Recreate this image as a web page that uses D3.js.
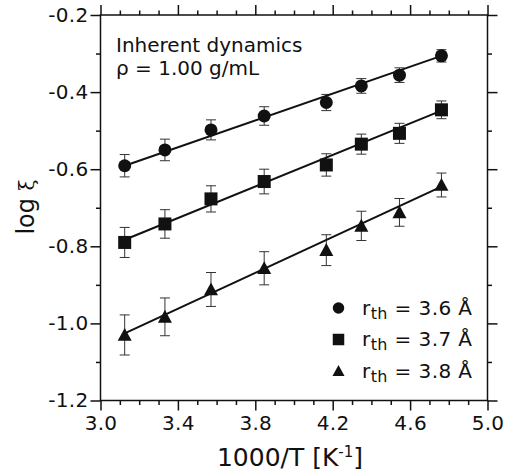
<!DOCTYPE html>
<html>
<head>
<meta charset="utf-8">
<script src="https://cdn.jsdelivr.net/npm/d3@7"></script>
<style>
  html, body { margin: 0; padding: 0; background: #fff; }
  svg { display: block; font-family: "DejaVu Sans", Verdana, sans-serif; }
</style>
</head>
<body>
<svg id="chart" width="505" height="474"></svg>
<script>
// ---- data ----
const xValues = [3.125, 3.333, 3.571, 3.846, 4.167, 4.348, 4.545, 4.762];

const circleY   = [-0.591, -0.550, -0.498, -0.462, -0.427, -0.384, -0.356, -0.306];
const circleErr = [0.029, 0.028, 0.026, 0.024, 0.021, 0.019, 0.019, 0.016];

const squareY   = [-0.790, -0.742, -0.677, -0.632, -0.589, -0.535, -0.507, -0.446];
const squareErr = [0.039, 0.037, 0.034, 0.032, 0.029, 0.026, 0.026, 0.023];

const triangleY   = [-1.030, -0.983, -0.912, -0.857, -0.810, -0.747, -0.712, -0.641];
const triangleErr = [0.052, 0.049, 0.044, 0.043, 0.040, 0.038, 0.036, 0.031];

// fit-line end points: [x0, y0, x1, y1]
const circleFit   = [3.125, -0.591, 4.762, -0.306];
const squareFit   = [3.125, -0.783, 4.762, -0.448];
const triangleFit = [3.125, -1.026, 4.762, -0.645];

const seriesNames  = ["3.6 Å", "3.7 Å", "3.8 Å"];
const seriesShapes = ["circle", "square", "triangle"];

const xMajorTicks  = [3.0, 3.4, 3.8, 4.2, 4.6, 5.0];
const xTickLabels  = ["3.0", "3.4", "3.8", "4.2", "4.6", "5.0"];
const xMinorTicks  = [3.1, 3.2, 3.3, 3.5, 3.6, 3.7, 3.9, 4.0, 4.1, 4.3, 4.4, 4.5, 4.7, 4.8, 4.9];
const yMajorTicks  = [-0.2, -0.4, -0.6, -0.8, -1.0, -1.2];
const yTickLabels  = ["-0.2", "-0.4", "-0.6", "-0.8", "-1.0", "-1.2"];
const yMinorTicks  = [-0.3, -0.5, -0.7, -0.9, -1.1];

// ---- layout ----
const svg = d3.select("#chart");
const L = 100.5, R = 487.5, T = 15, B = 400.5;
const x = d3.scaleLinear().domain([3.0, 5.0]).range([L, R]);
const y = d3.scaleLinear().domain([-1.2, -0.2]).range([B, T]);

const ink = "#111";

// axes (ticks outward on all four sides)
function styleAxis(g) {
  g.select(".domain").remove();
  g.selectAll(".tick line").attr("stroke", ink).attr("stroke-width", 1.5);
  g.selectAll(".tick text").attr("fill", ink).style("font-size", "20px")
    .style("letter-spacing", "0.3px")
    .style("font-family", '"DejaVu Sans", Verdana, sans-serif');
}
// bottom
svg.append("g").attr("transform", `translate(0,${B})`)
  .call(d3.axisBottom(x).tickValues(xMajorTicks).tickSize(10).tickPadding(5)
    .tickFormat((d, i) => xTickLabels[i]))
  .call(styleAxis);
svg.append("g").attr("transform", `translate(0,${B})`)
  .call(d3.axisBottom(x).tickValues(xMinorTicks).tickSize(4.5).tickFormat(""))
  .call(styleAxis);
// top
svg.append("g").attr("transform", `translate(0,${T})`)
  .call(d3.axisTop(x).tickValues(xMajorTicks).tickSize(10).tickFormat(""))
  .call(styleAxis);
svg.append("g").attr("transform", `translate(0,${T})`)
  .call(d3.axisTop(x).tickValues(xMinorTicks).tickSize(4.5).tickFormat(""))
  .call(styleAxis);
// left
svg.append("g").attr("transform", `translate(${L},0)`)
  .call(d3.axisLeft(y).tickValues(yMajorTicks).tickSize(10).tickPadding(2)
    .tickFormat((d, i) => yTickLabels[i]))
  .call(styleAxis);
svg.append("g").attr("transform", `translate(${L},0)`)
  .call(d3.axisLeft(y).tickValues(yMinorTicks).tickSize(4.5).tickFormat(""))
  .call(styleAxis);
// right
svg.append("g").attr("transform", `translate(${R},0)`)
  .call(d3.axisRight(y).tickValues(yMajorTicks).tickSize(10).tickFormat(""))
  .call(styleAxis);
svg.append("g").attr("transform", `translate(${R},0)`)
  .call(d3.axisRight(y).tickValues(yMinorTicks).tickSize(4.5).tickFormat(""))
  .call(styleAxis);

// frame
svg.append("rect").attr("x", L).attr("y", T).attr("width", R - L).attr("height", B - T)
  .attr("fill", "none").attr("stroke", ink).attr("stroke-width", 1.5);

// axis titles
const xt = svg.append("text").attr("x", 290).attr("y", 466).attr("text-anchor", "middle")
  .attr("fill", ink).style("font-size", "25px");
xt.append("tspan").text("1000/T [K");
xt.append("tspan").attr("dy", -9).style("font-size", "15px").text("-1");
xt.append("tspan").attr("dy", 9).text("]");

const yt = svg.append("text").attr("transform", "translate(34,207) rotate(-90)")
  .attr("text-anchor", "middle").attr("fill", ink).style("font-size", "24px");
yt.append("tspan").text("log ");
yt.append("tspan").style("font-family", '"DejaVu Serif", "Liberation Serif", serif')
  .style("font-size", "20px").text("ξ");

// annotation
svg.append("text").attr("x", 116).attr("y", 52).attr("fill", ink)
  .style("font-size", "20px").text("Inherent dynamics");
svg.append("text").attr("x", 116).attr("y", 75).attr("fill", ink)
  .style("font-size", "20px").text("ρ = 1.00 g/mL");

// markers
function drawMarker(g, shape, cx, cy, s) {
  if (shape === "circle") {
    g.append("circle").attr("cx", cx).attr("cy", cy).attr("r", s / 2).attr("fill", ink);
  } else if (shape === "square") {
    g.append("rect").attr("x", cx - s / 2).attr("y", cy - s / 2)
      .attr("width", s).attr("height", s).attr("fill", ink);
  } else {
    const h = s * 0.92;
    g.append("path")
      .attr("d", `M${cx},${cy - h * 0.55}L${cx + s / 2},${cy + h * 0.45}L${cx - s / 2},${cy + h * 0.45}Z`)
      .attr("fill", ink);
  }
}

const series = [
  { ys: circleY, errs: circleErr, fit: circleFit, shape: "circle", size: 13 },
  { ys: squareY, errs: squareErr, fit: squareFit, shape: "square", size: 13 },
  { ys: triangleY, errs: triangleErr, fit: triangleFit, shape: "triangle", size: 14 }
];

const plot = svg.append("g");
series.forEach(sr => {
  // error bars
  const eb = plot.append("g").attr("stroke", "#333").attr("stroke-width", 1);
  xValues.forEach((xv, i) => {
    const px = x(xv), y0 = y(sr.ys[i] - sr.errs[i]), y1 = y(sr.ys[i] + sr.errs[i]);
    eb.append("line").attr("x1", px).attr("x2", px).attr("y1", y0).attr("y2", y1);
    eb.append("line").attr("x1", px - 5).attr("x2", px + 5).attr("y1", y0).attr("y2", y0);
    eb.append("line").attr("x1", px - 5).attr("x2", px + 5).attr("y1", y1).attr("y2", y1);
  });
  // fit line
  plot.append("line")
    .attr("x1", x(sr.fit[0])).attr("y1", y(sr.fit[1]))
    .attr("x2", x(sr.fit[2])).attr("y2", y(sr.fit[3]))
    .attr("stroke", ink).attr("stroke-width", 2);
  // points
  const mg = plot.append("g");
  xValues.forEach((xv, i) => drawMarker(mg, sr.shape, x(xv), y(sr.ys[i]), sr.size));
});

// legend
const lg = svg.append("g");
seriesNames.forEach((nm, i) => {
  const ly = 308 + i * 31.5;
  drawMarker(lg, seriesShapes[i], 338.5, ly, i === 2 ? 12 : 11.5);
  const t = lg.append("text").attr("x", 362).attr("y", ly + 6.5).attr("fill", ink)
    .style("font-size", "20px").style("letter-spacing", "0.4px");
  t.append("tspan").text("r");
  t.append("tspan").attr("dy", 4).style("font-size", "16px").text("th");
  t.append("tspan").attr("dy", -4).text(" = " + nm);
});
</script>
</body>
</html>
